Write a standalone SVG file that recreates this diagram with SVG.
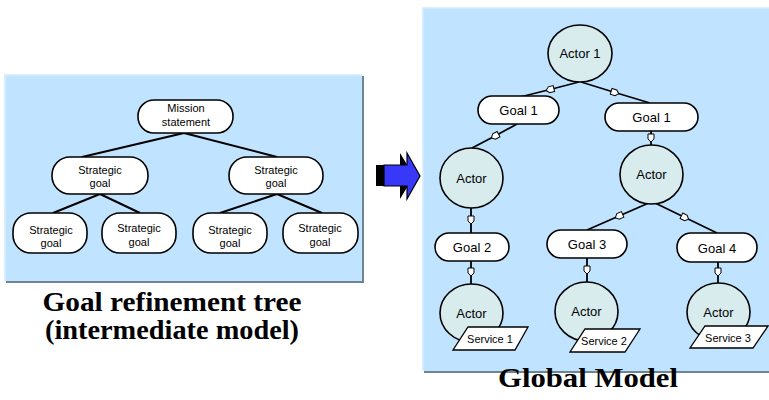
<svg xmlns="http://www.w3.org/2000/svg" width="769" height="400" viewBox="0 0 769 400">
<style>
.panel{fill:#C0E4FF;}
.hl{fill:none;stroke:#DCEFFF;stroke-width:1.5;}
.shadow{fill:#6E8494;}
.rr{fill:#FFFFFF;stroke:#000;stroke-width:1.6;}
.actor{fill:#D8ECEE;stroke:#000;stroke-width:1.6;}
.svc{fill:#FFFFFF;stroke:#000;stroke-width:1.3;}
.t11{font-family:"Liberation Sans",Arial,sans-serif;font-size:11px;fill:#000;text-anchor:middle;}
.t13{font-family:"Liberation Sans",Arial,sans-serif;font-size:13px;fill:#000;text-anchor:middle;}
.t10{font-family:"Liberation Sans",Arial,sans-serif;font-size:11px;fill:#000;text-anchor:middle;}
.cap{font-family:"Liberation Serif","Times New Roman",serif;font-size:27px;font-weight:bold;fill:#000;text-anchor:middle;}
.ln{fill:none;stroke:#000;stroke-width:2;}
.cn{fill:none;stroke:#000;stroke-width:1.8;marker-mid:url(#dot);}
</style>
<defs>
<marker id="dot" markerUnits="userSpaceOnUse" viewBox="-5 -5 10 10" markerWidth="10" markerHeight="10" refX="0" refY="0" orient="auto">
<path d="M-4,-3 L1,-3 L4,0 L1,3 L-4,3 Z" fill="#FFFFFF" stroke="#000" stroke-width="1"/>
</marker>
</defs>

<!-- left panel -->
<g id="panel-left">
<rect class="shadow" x="6" y="76" width="358" height="207"/>
<rect class="panel" x="4" y="74" width="358" height="207"/>
<path class="hl" d="M4.75,281 V74.75 H362"/>
</g>

<!-- right panel -->
<g id="panel-right">
<rect class="shadow" x="424" y="9" width="347" height="364"/>
<rect class="panel" x="422" y="7" width="349" height="364"/>
<path class="hl" d="M422.75,371 V7.75 H769"/>
</g>

<!-- arrow -->
<g id="arrow">
<polygon points="376,165 400,165 400,153 414,176 400,199 400,186 376,186" fill="#000"/>
<polygon points="384,165 407,165 407,153 420,176 407,199 407,186 384,186" fill="#3838F8" stroke="#000" stroke-width="1.2"/>
</g>

<!-- left connectors -->
<g id="connectors-left">
<line class="ln" x1="184" y1="133" x2="82" y2="157"/>
<line class="ln" x1="184" y1="133" x2="277" y2="157"/>
<line class="ln" x1="100" y1="194" x2="53" y2="213"/>
<line class="ln" x1="100" y1="194" x2="140" y2="213"/>
<line class="ln" x1="277" y1="194" x2="220" y2="213"/>
<line class="ln" x1="277" y1="194" x2="322" y2="213"/>
</g>

<g id="mission">
<rect class="rr" x="138" y="100" width="95" height="33" rx="16" ry="16"/>
<text class="t11" x="186" y="112">Mission</text>
<text class="t11" x="186" y="126">statement</text>
</g>
<g id="sg-l">
<rect class="rr" x="52" y="157" width="96" height="37" rx="18" ry="18"/>
<text class="t11" x="100" y="173.5">Strategic</text>
<text class="t11" x="100" y="186.5">goal</text>
</g>
<g id="sg-r">
<rect class="rr" x="229" y="157" width="94" height="37" rx="18" ry="18"/>
<text class="t11" x="276" y="173.5">Strategic</text>
<text class="t11" x="276" y="186.5">goal</text>
</g>
<g id="sg-ll">
<rect class="rr" x="13" y="213" width="74" height="40" rx="18" ry="18"/>
<text class="t11" x="51" y="234">Strategic</text>
<text class="t11" x="51" y="247">goal</text>
</g>
<g id="sg-lr">
<rect class="rr" x="102" y="213" width="74" height="40" rx="18" ry="18"/>
<text class="t11" x="139" y="232">Strategic</text>
<text class="t11" x="139" y="246">goal</text>
</g>
<g id="sg-rl">
<rect class="rr" x="193" y="213" width="74" height="40" rx="18" ry="18"/>
<text class="t11" x="230" y="234">Strategic</text>
<text class="t11" x="230" y="247">goal</text>
</g>
<g id="sg-rr">
<rect class="rr" x="283" y="213" width="75" height="40" rx="18" ry="18"/>
<text class="t11" x="320" y="232">Strategic</text>
<text class="t11" x="320" y="246">goal</text>
</g>

<text class="cap" x="172" y="311" textLength="259" lengthAdjust="spacingAndGlyphs">Goal refinement tree</text>
<text class="cap" x="172" y="339" textLength="254" lengthAdjust="spacingAndGlyphs">(intermediate model)</text>

<!-- right connectors -->
<g id="connectors-right">
<polyline class="cn" points="579,82 550,89.5 520,97"/>
<polyline class="cn" points="581,82 615,92.5 650,103"/>
<polyline class="cn" points="517,124 495,136 472,148"/>
<polyline class="cn" points="651,131 651,138 651,145"/>
<polyline class="cn" points="471,208 471,220 471,233"/>
<polyline class="cn" points="651,202 619,216 587,230"/>
<polyline class="cn" points="653,202 685,217.5 717,233"/>
<polyline class="cn" points="471,261 471,272 471,284"/>
<polyline class="cn" points="587,258 587,270 587,282"/>
<polyline class="cn" points="718,262 718,272 718,283"/>
</g>

<g id="actor1">
<ellipse class="actor" cx="580" cy="53.5" rx="32" ry="28.5"/>
<text class="t13" x="580" y="58">Actor 1</text>
</g>
<g id="goal1-l">
<rect class="rr" x="478" y="96" width="81" height="28" rx="14" ry="14"/>
<text class="t13" x="518.5" y="115">Goal 1</text>
</g>
<g id="goal1-r">
<rect class="rr" x="605" y="103" width="93" height="28" rx="14" ry="14"/>
<text class="t13" x="651.5" y="122">Goal 1</text>
</g>
<g id="actor-l">
<ellipse class="actor" cx="471.5" cy="178" rx="31.5" ry="30"/>
<text class="t13" x="471.5" y="182.5">Actor</text>
</g>
<g id="actor-r">
<ellipse class="actor" cx="651.5" cy="174.5" rx="31.5" ry="29.5"/>
<text class="t13" x="651.5" y="179">Actor</text>
</g>
<g id="goal2">
<rect class="rr" x="435" y="233" width="74" height="28" rx="14" ry="14"/>
<text class="t13" x="472" y="252">Goal 2</text>
</g>
<g id="goal3">
<rect class="rr" x="547" y="230" width="80" height="28" rx="14" ry="14"/>
<text class="t13" x="587" y="249">Goal 3</text>
</g>
<g id="goal4">
<rect class="rr" x="677" y="233" width="80" height="29" rx="14" ry="14"/>
<text class="t13" x="717" y="252.5">Goal 4</text>
</g>
<g id="actor-b1">
<ellipse class="actor" cx="471.5" cy="313" rx="31.5" ry="29"/>
<text class="t13" x="471.5" y="317.5">Actor</text>
<polygon class="svc" points="468,327 528,327 515,350 453,350"/>
<text class="t10" x="490" y="343">Service 1</text>
</g>
<g id="actor-b2">
<ellipse class="actor" cx="586.5" cy="311.5" rx="31.5" ry="29.5"/>
<text class="t13" x="586.5" y="316">Actor</text>
<polygon class="svc" points="585,329 640,329 625,352 570,352"/>
<text class="t10" x="604" y="345">Service 2</text>
</g>
<g id="actor-b3">
<ellipse class="actor" cx="718.5" cy="312" rx="31.5" ry="29"/>
<text class="t13" x="718.5" y="316.5">Actor</text>
<polygon class="svc" points="705,326 768,326 753,348 690,348"/>
<text class="t10" x="728" y="342">Service 3</text>
</g>

<text class="cap" x="588" y="387" textLength="180" lengthAdjust="spacingAndGlyphs">Global Model</text>
</svg>
